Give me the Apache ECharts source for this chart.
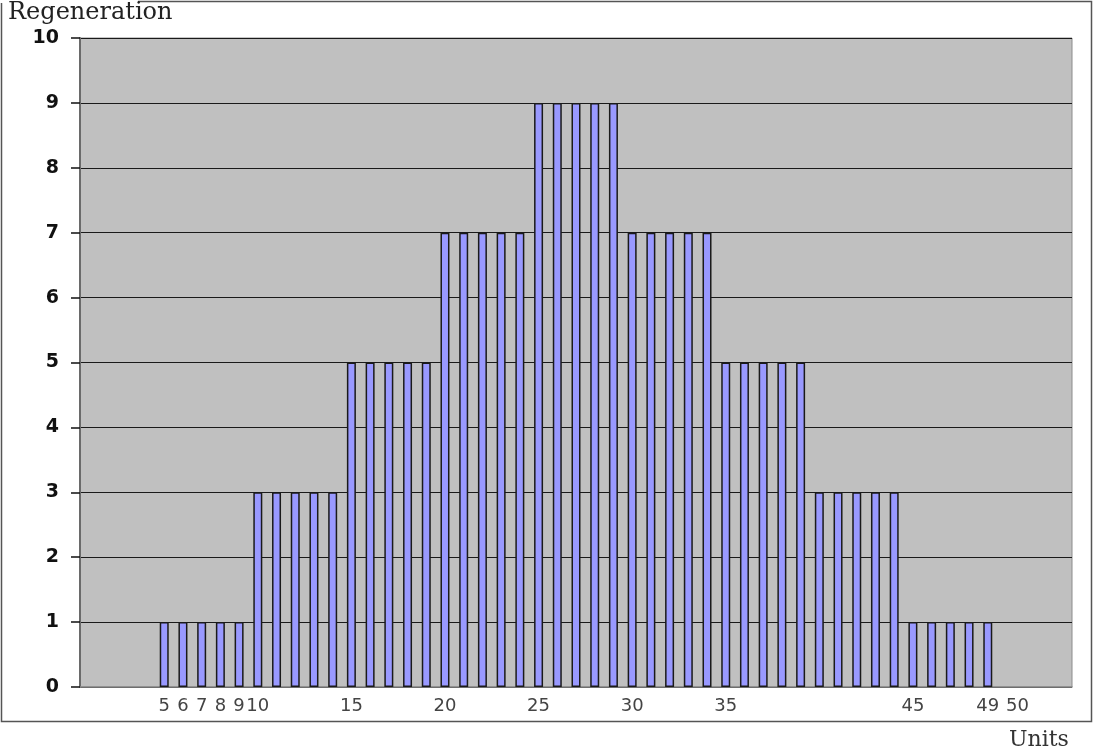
<!DOCTYPE html>
<html>
<head>
<meta charset="utf-8">
<script src="https://cdn.jsdelivr.net/npm/echarts@6/dist/echarts.min.js"></script>
<style>
  html, body { margin: 0; padding: 0; background: #fff; }
  #chart { width: 1094px; height: 753px; }
</style>
</head>
<body>
<div id="chart"></div>
<script>
// units on the x axis, one slot per unit
var units = ["1", "2", "3", "4", "5", "6", "7", "8", "9", "10",
  "11", "12", "13", "14", "15", "16", "17", "18", "19", "20",
  "21", "22", "23", "24", "25", "26", "27", "28", "29", "30",
  "31", "32", "33", "34", "35", "36", "37", "38", "39", "40",
  "41", "42", "43", "44", "45", "46", "47", "48", "49", "50",
  "51", "52", "53"];

// regeneration per unit (no bar where null)
var regeneration = [null, null, null, null, 1, 1, 1, 1, 1, 3,
  3, 3, 3, 3, 5, 5, 5, 5, 5, 7,
  7, 7, 7, 7, 9, 9, 9, 9, 9, 7,
  7, 7, 7, 7, 5, 5, 5, 5, 5, 3,
  3, 3, 3, 3, 1, 1, 1, 1, 1, null,
  null, null, null];

// only these units get a label under the axis
var xTickLabels = ["5", "6", "7", "8", "9", "10", "15", "20", "25", "30", "35", "45", "49", "50"];

var myChart = echarts.init(document.getElementById("chart"));

var option = {
  backgroundColor: "#ffffff",
  animation: false,
  grid: {
    left: 80,
    right: 22,
    top: 38,
    bottom: 66,
    show: true,
    backgroundColor: "#c0c0c0",
    borderColor: "#8c8c8c",
    borderWidth: 1
  },
  xAxis: {
    type: "category",
    data: units,
    boundaryGap: true,
    axisLine: { lineStyle: { color: "#8a8a8a", width: 1.5 } },
    axisTick: { show: false },
    axisLabel: {
      interval: 0,
      margin: 10,
      color: "#444",
      fontFamily: "DejaVu Sans",
      fontSize: 18,
      formatter: function (v) {
        if (v === "50") return "{last|50}";
        return xTickLabels.indexOf(v) >= 0 ? v : "";
      },
      rich: {
        last: { fontFamily: "DejaVu Sans", fontSize: 18, color: "#444", padding: [0, 0, 0, 22] }
      }
    },
    splitLine: { show: false }
  },
  yAxis: {
    type: "value",
    min: 0,
    max: 10,
    interval: 1,
    axisLine: { show: true, lineStyle: { color: "#6a6a6a", width: 2 } },
    axisTick: { show: true, length: 9, lineStyle: { color: "#111", width: 1.5 } },
    axisLabel: {
      margin: 21,
      color: "#111",
      fontFamily: "DejaVu Sans",
      fontWeight: "bold",
      fontSize: 19
    },
    splitLine: { show: true, lineStyle: { color: "#1a1a1a", width: 1.2 } }
  },
  graphic: [
    {
      type: "rect",
      z: -1,
      shape: { x: 1.5, y: 1.5, width: 1090, height: 720 },
      style: { fill: "none", stroke: "#555", lineWidth: 1.5 }
    },
    {
      type: "rect",
      z: 0,
      shape: { x: 0, y: 0, width: 138, height: 3 },
      style: { fill: "#fff" }
    },
    {
      type: "text",
      left: 8,
      top: 1,
      style: {
        text: "Regeneration",
        font: "24px 'DejaVu Serif'",
        fill: "#222"
      }
    },
    {
      type: "text",
      left: 1009,
      top: 729,
      style: {
        text: "Units",
        font: "22px 'DejaVu Serif'",
        fill: "#333"
      }
    }
  ],
  series: [
    {
      type: "bar",
      data: regeneration,
      barWidth: 9,
      itemStyle: {
        color: "#9999ff",
        borderColor: "#1a1a1a",
        borderWidth: 1.5
      }
    }
  ]
};

option && myChart.setOption(option);
</script>
</body>
</html>
